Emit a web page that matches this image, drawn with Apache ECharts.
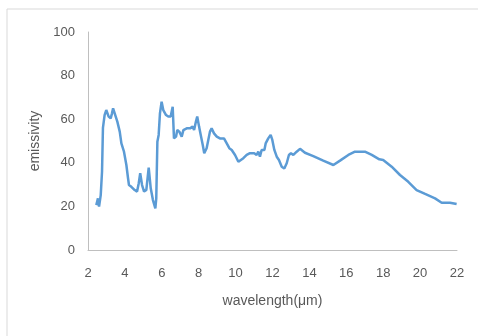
<!DOCTYPE html>
<html>
<head>
<meta charset="utf-8">
<script src="https://cdn.jsdelivr.net/npm/echarts@6/dist/echarts.min.js"></script>
<style>
  html, body { margin: 0; padding: 0; background: #fff; }
  #emissivityChart { width: 478px; height: 336px; }
</style>
</head>
<body>
<div id="emissivityChart"></div>
<script>
// wavelength in µm, emissivity
const wavelength = [
  2.45, 2.54, 2.6, 2.69, 2.76, 2.81, 2.9, 2.99, 3.12, 3.23, 3.3, 3.36, 3.45, 3.59, 3.72, 3.81, 3.95,
  4.08, 4.17, 4.22, 4.35, 4.53, 4.66, 4.75, 4.83, 4.93, 5.04, 5.16, 5.29, 5.4, 5.52, 5.65, 5.7,
  5.76, 5.83, 5.9, 5.99, 6.08, 6.23, 6.35, 6.48, 6.59, 6.66, 6.77, 6.84, 6.95, 7.08, 7.17, 7.35,
  7.53, 7.67, 7.75, 7.85, 7.92, 8.02, 8.11, 8.22, 8.3, 8.43, 8.52, 8.61, 8.7, 8.83, 8.98, 9.15,
  9.37, 9.52, 9.66, 9.79, 9.97, 10.15, 10.24, 10.42, 10.6, 10.78, 11.01, 11.14, 11.23, 11.32, 11.41,
  11.56, 11.63, 11.77, 11.9, 11.99, 12.1, 12.23, 12.35, 12.5, 12.64, 12.77, 12.89, 13.0, 13.13,
  13.31, 13.49, 13.76, 14.21, 14.75, 15.3, 15.66, 16.11, 16.47, 17.01, 17.38, 17.79, 18.0, 18.46,
  18.91, 19.36, 19.81, 20.27, 20.81, 21.17, 21.62, 21.98
];
const emissivity = [
  20.6, 23.7, 19.9, 25.2, 35.9, 56, 61.9, 64.2, 61.2, 60.4, 62.7, 65, 64.2, 58.9, 54.3, 48.9, 45.1,
  39, 32.9, 29.8, 29, 27.5, 26.8, 30.6, 35.2, 29.8, 26.8, 27.5, 37.8, 28.3, 22.9, 19.1, 23.7,
  49.7, 52.8, 62.7, 68, 64.2, 61.9, 61.2, 61.2, 65.7, 51.2, 52, 55, 54.3, 52, 55, 55.8,
  55.8, 56.6, 55, 58.9, 61.2, 56.6, 52.8, 48.2, 44.4, 46.7, 50.5, 54.3, 55.8, 53.5, 52, 51.2,
  51.2, 48.9, 46.7, 45.9, 43.6, 40.5, 39.8, 42.1, 43.6, 44.4, 44.4, 43.6, 45.1, 42.8, 45.9,
  45.9, 48.9, 51.2, 52.8, 50.5, 45.9, 42.8, 41.3, 38.2, 37.4, 39.8, 43.6, 44.4, 43.6,
  45.1, 46.4, 44.6, 43.1, 41, 39, 41, 43.6, 45.1, 45.1, 43.6, 41.6, 41.3, 38.2,
  34.4, 31.3, 27.5, 25.7, 23.7, 21.7, 21.7, 21.1
];
const xTicks = [2, 22, 2];   // min, max, interval
const yTicks = [0, 100, 20];

const points = wavelength.map((w, i) => [w, emissivity[i]]);

const font = "'Liberation Sans', Arial, sans-serif";
const grey = '#595959';

let myChart = echarts.init(document.getElementById('emissivityChart'));
myChart.setOption({
  animation: false,
  graphic: [{
    type: 'rect',
    shape: { x: 7, y: 9, width: 520, height: 400 },
    style: { fill: 'none', stroke: '#d9d9d9', lineWidth: 1 }
  }],
  grid: { left: 88, right: 21, top: 32, bottom: 86 },
  xAxis: {
    type: 'value',
    min: xTicks[0], max: xTicks[1], interval: xTicks[2],
    name: 'wavelength(μm)',
    nameLocation: 'middle',
    nameGap: 44,
    nameTextStyle: { color: grey, fontSize: 14, fontFamily: font },
    axisLine: { show: true, lineStyle: { color: '#bfbfbf', width: 1 } },
    axisTick: { show: false },
    splitLine: { show: false },
    axisLabel: { color: grey, fontSize: 13, fontFamily: font, margin: 17 }
  },
  yAxis: {
    type: 'value',
    min: yTicks[0], max: yTicks[1], interval: yTicks[2],
    name: 'emissivity',
    nameLocation: 'middle',
    nameGap: 42,
    nameTextStyle: { color: grey, fontSize: 14, fontFamily: font },
    axisLine: { show: true, lineStyle: { color: '#bfbfbf', width: 1 } },
    axisTick: { show: false },
    splitLine: { show: false },
    axisLabel: { color: grey, fontSize: 13, fontFamily: font, margin: 13 }
  },
  series: [{
    type: 'line',
    data: points,
    showSymbol: false,
    lineStyle: { color: '#5b9bd5', width: 2.5 },
    itemStyle: { color: '#5b9bd5' }
  }]
});

window.addEventListener('resize', function() {
  myChart.resize();
});
</script>
</body>
</html>
